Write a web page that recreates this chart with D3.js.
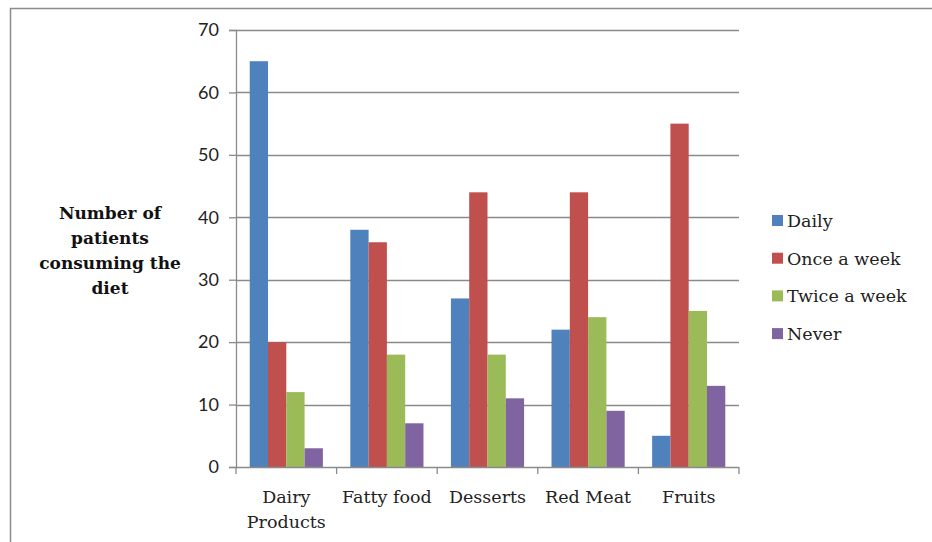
<!DOCTYPE html>
<html>
<head>
<meta charset="utf-8">
<script src="https://cdn.jsdelivr.net/npm/d3@7"></script>
<style>
  body { margin: 0; background: #fff; }
  svg { display: block; }
</style>
</head>
<body>
<div id="chart"></div>
<script>
const categories = [["Dairy", "Products"], ["Fatty food"], ["Desserts"], ["Red Meat"], ["Fruits"]];
const seriesNames = ["Daily", "Once a week", "Twice a week", "Never"];
const daily = [65, 38, 27, 22, 5];
const onceAWeek = [20, 36, 44, 44, 55];
const twiceAWeek = [12, 18, 18, 24, 25];
const never = [3, 7, 11, 9, 13];
const yTicks = [0, 10, 20, 30, 40, 50, 60, 70];
const yTitleLines = ["Number of", "patients", "consuming the", "diet"];
const colors = ["#4F81BD", "#C0504D", "#9BBB59", "#8064A2"];

const width = 932, height = 542;
const margin = { left: 236, right: 193, top: 30, bottom: 75 };
const innerWidth = width - margin.left - margin.right;
const innerHeight = height - margin.top - margin.bottom;

const series = [daily, onceAWeek, twiceAWeek, never];
const rows = categories.map((c, i) => ({
  key: c.join(" "),
  lines: c,
  values: series.map((s, j) => ({ name: seriesNames[j], value: s[i] }))
}));

const svg = d3.select("#chart")
  .append("svg")
    .attr("width", width)
    .attr("height", height);

// outer frame (only top and left edges show)
svg.append("path")
  .attr("d", `M10.5,${height} V8.5 H${width}`)
  .attr("fill", "none")
  .attr("stroke", "#8c8c8c")
  .attr("stroke-width", 1.5);

const xScale = d3.scaleBand()
  .domain(rows.map(d => d.key))
  .range([margin.left, margin.left + innerWidth]);

const xInner = d3.scaleBand()
  .domain(seriesNames)
  .range([0, xScale.bandwidth()])
  .paddingInner(0)
  .paddingOuter(0.75);

const yScale = d3.scaleLinear()
  .domain([0, 70])
  .range([margin.top + innerHeight, margin.top]);

// gridlines
svg.append("g")
  .selectAll("line")
  .data(yTicks.slice(1))
  .join("line")
    .attr("x1", margin.left)
    .attr("x2", margin.left + innerWidth)
    .attr("y1", d => Math.round(yScale(d)) + 0.5)
    .attr("y2", d => Math.round(yScale(d)) + 0.5)
    .attr("stroke", "#8a8a8a")
    .attr("stroke-width", 1.3);

// bars
const groups = svg.selectAll("g.cat")
  .data(rows)
  .join("g")
    .attr("class", "cat")
    .attr("transform", d => `translate(${xScale(d.key)}, 0)`);

groups.selectAll("rect")
  .data(d => d.values)
  .join("rect")
    .attr("x", d => xInner(d.name))
    .attr("y", d => yScale(d.value))
    .attr("width", xInner.bandwidth())
    .attr("height", d => yScale(0) - yScale(d.value))
    .attr("fill", (d, i) => colors[i]);

// y axis
const yAxis = svg.append("g")
  .attr("transform", `translate(${margin.left}, 0)`)
  .call(d3.axisLeft(yScale).tickValues(yTicks).tickSize(7).tickPadding(10));
yAxis.select(".domain").attr("stroke", "#8a8a8a").attr("stroke-width", 1.3);
yAxis.selectAll(".tick line").attr("stroke", "#8a8a8a").attr("stroke-width", 1.3);
yAxis.selectAll(".tick text")
  .style("font-family", "Lato, 'Open Sans', sans-serif")
  .style("font-size", "18px")
  .style("fill", "#222");

// x axis
const baseY = yScale(0);
svg.append("line")
  .attr("x1", margin.left).attr("x2", margin.left + innerWidth)
  .attr("y1", baseY + 0.5).attr("y2", baseY + 0.5)
  .attr("stroke", "#8a8a8a").attr("stroke-width", 1.3);
svg.append("g")
  .selectAll("line")
  .data(d3.range(rows.length + 1))
  .join("line")
    .attr("x1", i => margin.left + i * xScale.step())
    .attr("x2", i => margin.left + i * xScale.step())
    .attr("y1", baseY)
    .attr("y2", baseY + 7)
    .attr("stroke", "#8a8a8a")
    .attr("stroke-width", 1.3);

const labelLines = rows.flatMap(d => d.lines.map((t, i) => ({
  text: t, i, x: xScale(d.key) + xScale.bandwidth() / 2
})));
svg.append("g")
  .selectAll("text")
  .data(labelLines)
  .join("text")
    .attr("x", d => d.x)
    .attr("y", d => baseY + 36 + d.i * 25)
    .attr("text-anchor", "middle")
    .style("font-family", "'DejaVu Serif', serif")
    .style("font-size", "17.5px")
    .style("fill", "#222")
    .text(d => d.text);

// y title
svg.append("g")
  .selectAll("text")
  .data(yTitleLines)
  .join("text")
    .attr("x", 110)
    .attr("y", (d, i) => 219 + i * 25)
    .attr("text-anchor", "middle")
    .style("font-family", "'DejaVu Serif', serif")
    .style("font-weight", "bold")
    .style("font-size", "17px")
    .style("fill", "#111")
    .text(d => d);

// legend
const items = svg.append("g")
  .selectAll("g")
  .data(seriesNames)
  .join("g")
    .attr("transform", (d, i) => `translate(772, ${221 + i * 37.7})`);
items.append("rect")
  .attr("x", 0)
  .attr("y", -6)
  .attr("width", 11)
  .attr("height", 11)
  .attr("fill", (d, i) => colors[i]);
items.append("text")
  .attr("x", 15)
  .attr("y", 6)
  .style("font-family", "'DejaVu Serif', serif")
  .style("font-size", "17.5px")
  .style("fill", "#222")
  .text(d => d);
</script>
</body>
</html>
